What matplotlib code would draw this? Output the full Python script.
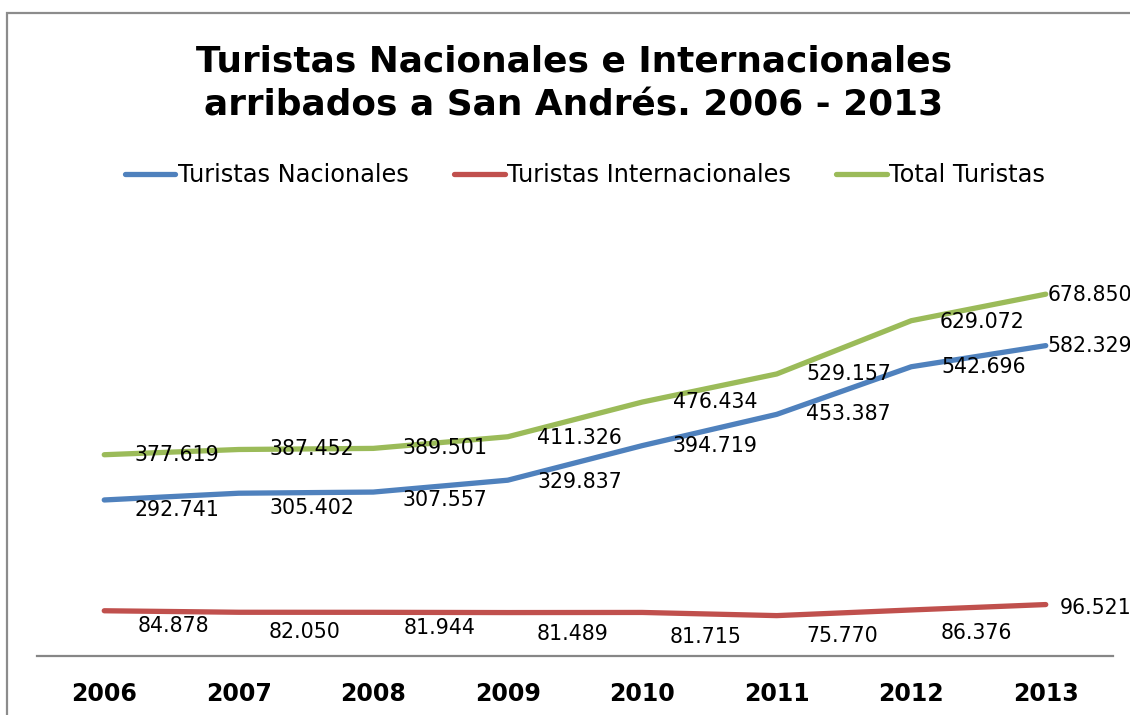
import matplotlib.pyplot as plt
from matplotlib.patches import Rectangle

years = ['2006', '2007', '2008', '2009', '2010', '2011', '2012', '2013']
nacionales = [292741, 305402, 307557, 329837, 394719, 453387, 542696, 582329]
internacionales = [84878, 82050, 81944, 81489, 81715, 75770, 86376, 96521]
total = [377619, 387452, 389501, 411326, 476434, 529157, 629072, 678850]

# label offsets in pixels (dx, dy downward)
off_nac = [(73, 10), (73, 15), (72, 8), (72, 2), (73, 0), (72, 0), (72, 0), (2, 0)]
off_int = [(69, 15), (66, 20), (66, 16), (65, 21), (63, 25), (66, 20), (65, 23), (14, 3)]
off_tot = [(73, 0), (73, 0), (72, 0), (72, 1), (73, 0), (72, 0), (71, 1), (2, 1)]

plt.rcParams['font.family'] = ['DejaVu Sans']

fig = plt.figure(figsize=(11.3, 7.15), dpi=100)
W, H = 1130, 715

# outer chart border (clipped at right and bottom)
fig.patches.append(Rectangle((7 / W, -0.05), 1.2, (H - 13) / H + 0.05,
                             transform=fig.transFigure, fill=False,
                             edgecolor='#8c8c8c', linewidth=1.6))

ax = fig.add_axes([37 / W, (H - 656) / H, 1076 / W, 426.4 / H])
x = list(range(len(years)))

series = [
    (nacionales, '#4F81BD', 'Turistas Nacionales', off_nac),
    (internacionales, '#C0504D', 'Turistas Internacionales', off_int),
    (total, '#9BBB59', 'Total Turistas', off_tot),
]
handles = []
for vals, col, name, offs in series:
    ln, = ax.plot(x, vals, color=col, lw=3.8, solid_capstyle='round',
                  solid_joinstyle='round', label=name)
    handles.append(ln)
    for i, v in enumerate(vals):
        txt = f'{v:,}'.replace(',', '.')
        dx, dy = offs[i]
        ha = 'left' if i == len(vals) - 1 else 'center'
        ax.annotate(txt, (i, v), xytext=(dx * 0.72, -dy * 0.72),
                    textcoords='offset points', ha=ha, va='center',
                    fontsize=14.8, color='black', annotation_clip=False,
                    clip_on=False)

ax.set_xlim(-0.5, len(years) - 0.5)
ax.set_ylim(0, 800000)
ax.set_xticks(x)
ax.set_xticklabels(years, fontsize=17, fontweight='bold')
ax.tick_params(axis='x', length=0, pad=19)
ax.set_yticks([])
for s in ['left', 'right', 'top']:
    ax.spines[s].set_visible(False)
ax.spines['bottom'].set_color('#868686')
ax.spines['bottom'].set_linewidth(1.6)
ax.patch.set_alpha(0)

fig.text(574 / W, 1 - 62 / H, 'Turistas Nacionales e Internacionales',
         ha='center', va='center', fontsize=25.8, fontweight='bold')
fig.text(574 / W, 1 - 106 / H, 'arribados a San Andrés. 2006 - 2013',
         ha='center', va='center', fontsize=25.8, fontweight='bold')

fig.legend(handles=handles, loc='center', bbox_to_anchor=(585 / W, 1 - 175 / H),
           ncol=3, frameon=False, fontsize=17.3, handlelength=2.1,
           handletextpad=0.1, columnspacing=1.9)

fig.savefig('out.png', dpi=100)
